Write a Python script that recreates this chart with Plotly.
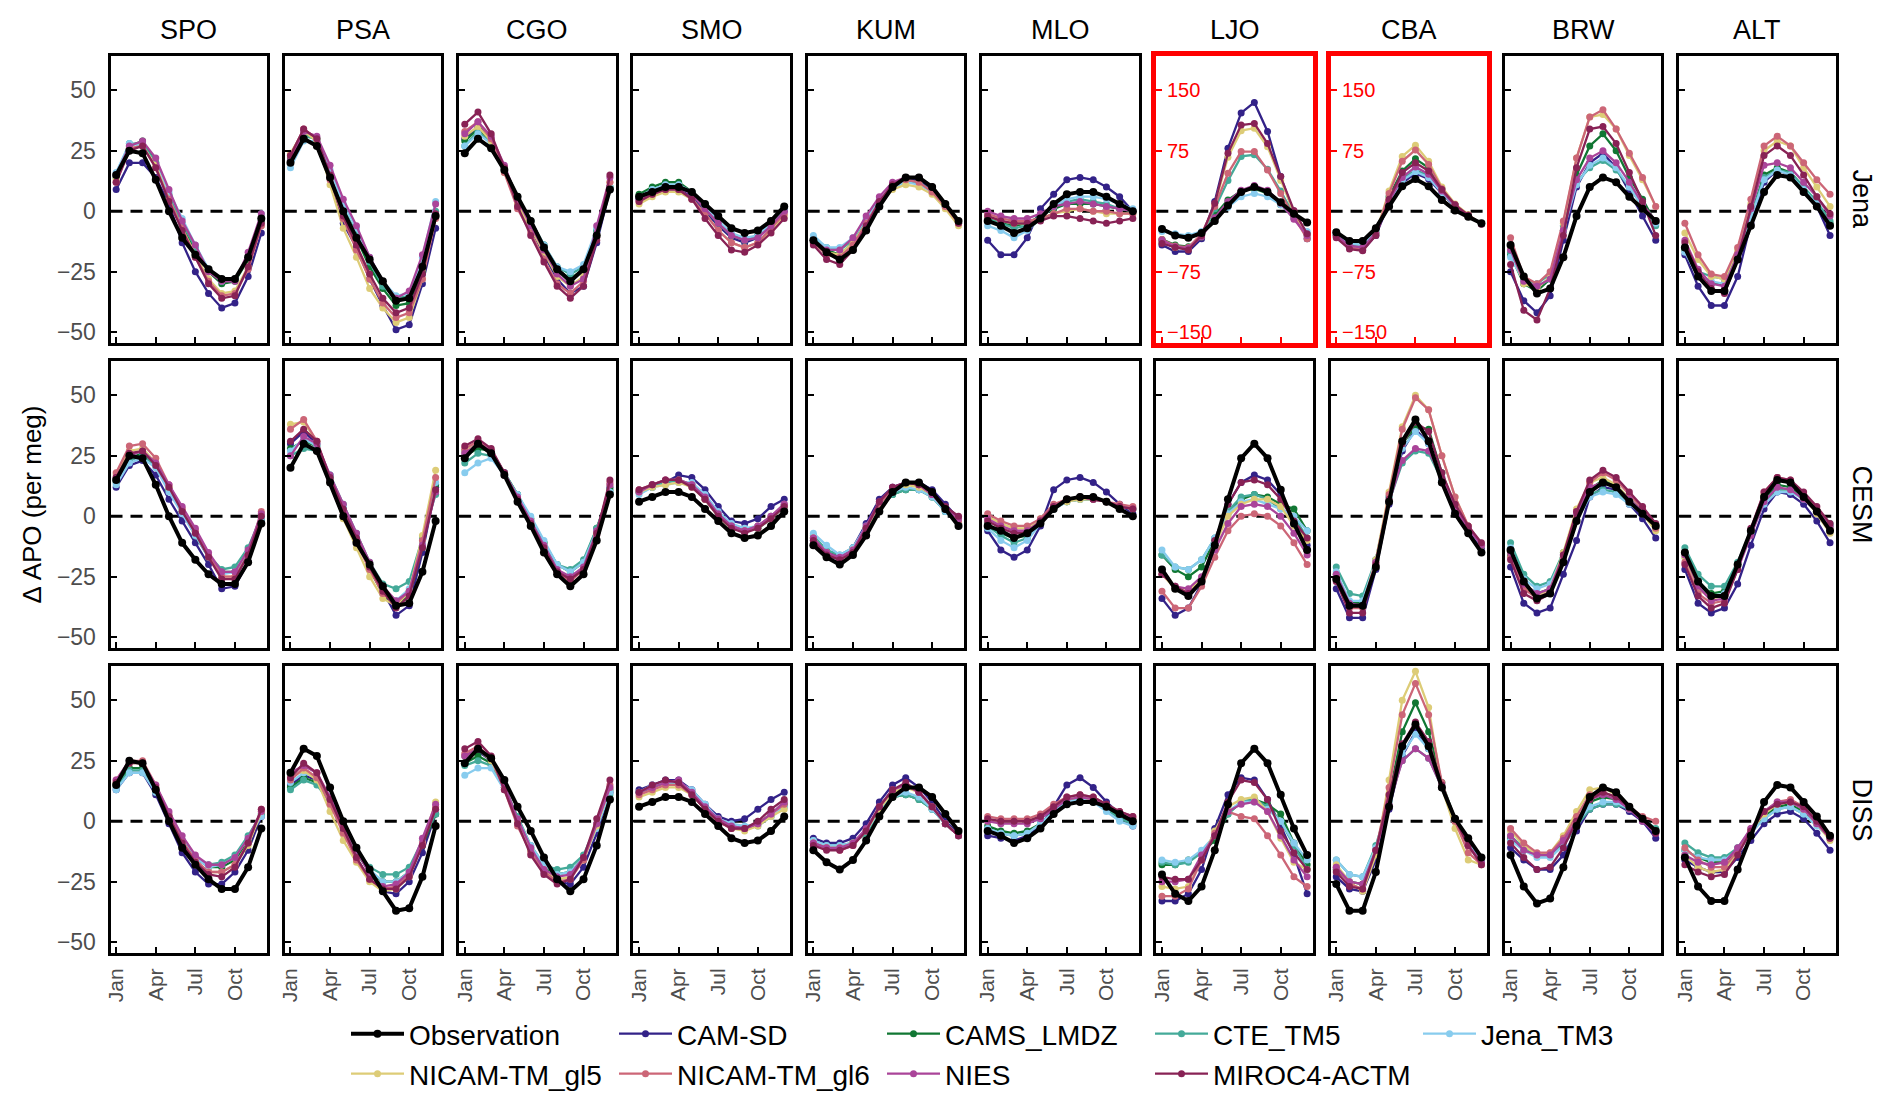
import plotly.graph_objects as go

# ---------------- data ----------------
stations = ["SPO", "PSA", "CGO", "SMO", "KUM", "MLO", "LJO", "CBA", "BRW", "ALT"]
row_names = ["Jena", "CESM", "DISS"]
months = [1, 2, 3, 4, 5, 6, 7, 8, 9, 10, 11, 12]
month_tickvals = [1, 4, 7, 10]
month_ticktext = ["Jan", "Apr", "Jul", "Oct"]
y_tickvals = [-50, -25, 0, 25, 50]
y_ticktext = ["\u221250", "\u221225", "0", "25", "50"]
red_tickvals = [-150, -75, 75, 150]
red_ticktext = ["\u2212150", "\u221275", "75", "150"]
scaled_panels = [(0, "LJO"), (0, "CBA")]

model_names = ["CAM-SD", "CAMS_LMDZ", "CTE_TM5", "Jena_TM3",
               "NICAM-TM_gl5", "NICAM-TM_gl6", "NIES", "MIROC4-ACTM"]
model_colors = ["#332288", "#117733", "#44AA99", "#88CCEE",
                "#DDCC77", "#CC6677", "#AA4499", "#882255"]

observation = [
    [15, 25, 24, 13, 0, -11, -18, -24, -28, -28, -19, -3],
    [20, 30, 27, 14, 0, -11, -20, -29, -37, -36, -23, -2],
    [24, 30, 26, 17, 6, -4, -15, -24, -29, -24, -10, 9],
    [6, 8, 10, 10, 8, 3, -2, -7, -9, -8, -4, 2],
    [-12, -17, -20, -16, -8, 2, 10, 14, 14, 10, 3, -4],
    [-4, -6, -9, -7, -3, 3, 7, 8, 8, 6, 3, 0],
    [-22, -30, -33, -27, -12, 7, 24, 30, 24, 11, -3, -14],
    [-26, -37, -37, -21, 6, 31, 40, 31, 14, 1, -7, -15],
    [-14, -27, -34, -32, -19, -2, 10, 14, 12, 6, 1, -4],
    [-15, -27, -33, -33, -20, -6, 8, 15, 14, 8, 2, -6],
]

# ---- Jena row ----
jena_cam_sd = [
    [9, 20, 20, 14, 3, -13, -25, -34, -40, -38, -27, -9],
    [21, 33, 29, 14, -5, -15, -28, -39, -49, -47, -30, -7],
    [30, 35, 30, 17, 3, -7, -18, -28, -34, -31, -13, 9],
    [5, 8, 9, 9, 6, 0, -6, -11, -13, -11, -6, 0],
    [-13, -17, -19, -14, -5, 4, 11, 13, 13, 9, 2, -5],
    [-12, -18, -18, -11, 1, 7, 13, 14, 13, 10, 6, 0],
    [-42, -50, -50, -34, 12, 78, 122, 135, 99, 43, -3, -34],
    [-30, -45, -48, -30, 10, 35, 47, 40, 22, 6, -6, -16],
    [-25, -37, -42, -35, -12, 10, 20, 24, 18, 8, -2, -12],
    [-18, -31, -39, -39, -27, -5, 12, 17, 15, 8, 2, -10],
]
jena_cams_lmdz = [
    [14, 27, 29, 20, 6, -6, -16, -25, -30, -29, -20, -4],
    [22, 32, 30, 15, -1, -11, -23, -32, -39, -38, -25, -2],
    [29, 34, 29, 18, 6, -4, -14, -24, -28, -24, -8, 10],
    [7, 10, 12, 12, 8, 2, -5, -10, -12, -10, -5, 2],
    [-12, -16, -18, -13, -4, 4, 11, 13, 12, 8, 2, -5],
    [-3, -5, -6, -5, -2, 1, 3, 3, 3, 2, 1, 0],
    [-35, -42, -44, -32, -5, 14, 25, 28, 22, 8, -8, -28],
    [-30, -43, -45, -27, 18, 50, 65, 54, 28, 8, -5, -16],
    [-18, -30, -33, -28, -8, 15, 27, 32, 25, 14, 5, -5],
    [-16, -27, -30, -30, -18, -2, 15, 18, 16, 10, 3, -5],
]
jena_cte_tm5 = [
    [15, 28, 28, 20, 7, -5, -15, -24, -29, -28, -19, -3],
    [20, 31, 30, 16, 1, -9, -21, -31, -36, -35, -22, 0],
    [27, 33, 28, 17, 6, -4, -14, -23, -26, -23, -8, 10],
    [6, 9, 11, 11, 7, 1, -5, -10, -12, -10, -5, 1],
    [-11, -15, -16, -12, -4, 4, 10, 12, 12, 8, 2, -5],
    [-3, -5, -7, -6, -2, 2, 4, 5, 4, 3, 1, 0],
    [-38, -45, -47, -30, 3, 38, 68, 70, 52, 25, -5, -30],
    [-28, -40, -42, -25, 12, 40, 51, 44, 24, 7, -5, -16],
    [-17, -28, -30, -26, -6, 12, 18, 21, 17, 10, 2, -6],
    [-15, -25, -27, -28, -18, -2, 14, 17, 16, 10, 4, -4],
]
jena_jena_tm3 = [
    [16, 28, 27, 19, 8, -3, -14, -24, -29, -28, -19, -1],
    [18, 29, 29, 17, 3, -7, -19, -29, -35, -34, -19, 4],
    [27, 32, 28, 17, 5, -4, -14, -23, -25, -22, -7, 10],
    [6, 9, 11, 11, 8, 2, -4, -9, -11, -10, -5, 1],
    [-10, -15, -15, -11, -3, 5, 10, 12, 11, 8, 2, -5],
    [-6, -8, -11, -8, -3, 2, 5, 6, 6, 5, 3, 1],
    [-25, -28, -30, -25, -10, 5, 18, 22, 18, 8, -8, -25],
    [-27, -40, -42, -25, 12, 38, 49, 42, 23, 7, -5, -16],
    [-19, -29, -31, -28, -8, 11, 19, 22, 18, 10, 2, -5],
    [-17, -27, -29, -30, -19, -3, 13, 17, 15, 9, 3, -6],
]
jena_nicam_gl5 = [
    [13, 26, 27, 19, 5, -7, -18, -28, -34, -33, -23, -6],
    [24, 33, 29, 11, -7, -19, -32, -40, -46, -44, -28, -2],
    [31, 35, 29, 16, 3, -7, -17, -27, -31, -27, -10, 12],
    [3, 6, 8, 8, 5, -1, -8, -13, -15, -13, -8, -2],
    [-13, -17, -18, -13, -5, 3, 9, 11, 10, 7, 1, -6],
    [-2, -4, -5, -5, -3, -1, 0, 1, 0, -1, -1, -1],
    [-38, -45, -47, -30, 8, 67, 100, 103, 80, 38, -2, -30],
    [-32, -45, -47, -27, 25, 68, 82, 62, 30, 9, -4, -16],
    [-15, -30, -32, -27, -5, 22, 39, 40, 34, 23, 13, 2],
    [-9, -20, -27, -28, -16, 3, 25, 29, 27, 18, 10, 2],
]
jena_nicam_gl6 = [
    [12, 26, 27, 18, 5, -7, -19, -29, -35, -34, -24, -6],
    [23, 34, 30, 13, -3, -16, -28, -38, -44, -42, -28, -3],
    [33, 37, 30, 16, 1, -9, -20, -30, -34, -29, -11, 12],
    [4, 7, 9, 9, 5, -1, -8, -13, -15, -13, -7, -1],
    [-13, -18, -19, -14, -5, 4, 11, 13, 12, 8, 2, -5],
    [-1, -3, -4, -4, -3, -1, 1, 1, 0, 0, -1, -1],
    [-35, -43, -45, -28, 6, 47, 74, 74, 51, 22, -7, -34],
    [-32, -45, -48, -28, 22, 62, 76, 58, 28, 8, -5, -16],
    [-11, -27, -30, -25, -4, 22, 39, 42, 34, 24, 14, 2],
    [-5, -18, -26, -27, -15, 5, 27, 31, 27, 20, 13, 7],
]
jena_nies = [
    [15, 27, 29, 22, 9, -4, -14, -25, -29, -29, -17, -1],
    [21, 33, 31, 19, 5, -6, -19, -29, -36, -33, -18, 3],
    [32, 37, 31, 19, 5, -6, -16, -26, -31, -28, -6, 14],
    [5, 8, 10, 10, 7, 1, -5, -10, -12, -11, -6, 0],
    [-12, -16, -16, -11, -2, 6, 12, 14, 14, 10, 3, -4],
    [0, -2, -3, -3, -1, 2, 3, 4, 3, 2, 1, 0],
    [-36, -44, -46, -32, -8, 12, 26, 32, 26, 10, -10, -30],
    [-30, -43, -45, -27, 12, 42, 55, 46, 25, 7, -5, -16],
    [-16, -29, -31, -28, -8, 13, 22, 25, 20, 12, 3, -4],
    [-12, -24, -30, -31, -18, 1, 19, 20, 18, 12, 6, -2],
]
jena_miroc4_actm = [
    [12, 25, 27, 18, 4, -8, -19, -30, -36, -35, -23, -5],
    [23, 34, 30, 15, -2, -14, -26, -36, -42, -40, -26, -1],
    [36, 41, 32, 18, 2, -10, -21, -31, -36, -31, -12, 15],
    [4, 7, 9, 9, 5, -3, -10, -16, -17, -14, -9, -3],
    [-14, -20, -22, -16, -6, 4, 11, 14, 14, 10, 3, -5],
    [-2, -4, -5, -5, -4, -2, -2, -3, -4, -5, -4, -3],
    [-40, -45, -48, -30, 10, 72, 107, 109, 84, 43, 1, -28],
    [-33, -47, -49, -30, 15, 48, 60, 50, 27, 8, -5, -16],
    [-22, -41, -45, -32, -10, 18, 34, 35, 28, 16, 4, -10],
    [-13, -25, -32, -34, -20, 2, 23, 27, 23, 15, 6, -1],
]

# ---- CESM row ----
cesm_cam_sd = [
    [12, 21, 23, 17, 7, -2, -11, -20, -30, -29, -19, -2],
    [30, 35, 30, 15, 2, -10, -21, -31, -41, -37, -15, 12],
    [27, 30, 27, 18, 8, -2, -13, -23, -26, -22, -7, 12],
    [10, 12, 14, 17, 16, 11, 4, -2, -3, -1, 4, 7],
    [-10, -16, -18, -13, -3, 7, 12, 14, 14, 11, 5, -1],
    [-6, -14, -17, -14, -4, 11, 15, 16, 14, 10, 5, 1],
    [-34, -41, -38, -28, -13, 5, 14, 17, 15, 9, -2, -12],
    [-30, -42, -42, -22, 5, 27, 36, 30, 15, 2, -6, -13],
    [-21, -36, -40, -38, -24, -10, 8, 12, 11, 5, -1, -9],
    [-22, -36, -40, -38, -28, -12, 3, 10, 9, 5, -2, -11],
]
cesm_cams_lmdz = [
    [15, 24, 26, 21, 11, 2, -8, -17, -23, -23, -15, -1],
    [28, 31, 29, 16, 3, -10, -22, -32, -37, -33, -13, 13],
    [25, 28, 27, 18, 9, -1, -11, -20, -23, -19, -5, 11],
    [10, 13, 14, 15, 13, 7, 0, -5, -6, -5, -1, 4],
    [-9, -14, -17, -14, -6, 3, 9, 11, 11, 8, 2, -3],
    [-3, -7, -9, -8, -2, 4, 6, 7, 7, 6, 4, 3],
    [-16, -22, -25, -21, -10, 1, 7, 9, 8, 5, 3, -6],
    [-24, -36, -36, -18, 8, 30, 37, 36, 18, 4, -5, -12],
    [-16, -28, -32, -30, -17, 0, 11, 15, 13, 7, 2, -5],
    [-15, -27, -32, -31, -20, -7, 7, 13, 12, 8, 2, -4],
]
cesm_cte_tm5 = [
    [14, 23, 25, 21, 11, 2, -7, -16, -22, -21, -13, 0],
    [25, 28, 27, 17, 5, -7, -19, -28, -30, -27, -9, 9],
    [22, 26, 25, 18, 9, -1, -11, -20, -22, -18, -5, 10],
    [10, 12, 14, 15, 13, 8, 1, -4, -6, -5, -1, 4],
    [-8, -14, -16, -13, -5, 4, 9, 11, 11, 8, 2, -3],
    [-4, -8, -11, -9, -3, 3, 6, 7, 7, 6, 4, 3],
    [-16, -21, -22, -18, -9, 2, 8, 9, 7, 3, 0, -9],
    [-21, -32, -33, -18, 6, 22, 27, 26, 15, 3, -5, -12],
    [-11, -24, -29, -27, -15, -1, 9, 11, 10, 6, 1, -4],
    [-13, -24, -29, -29, -19, -6, 6, 11, 11, 7, 2, -3],
]
cesm_jena_tm3 = [
    [13, 22, 24, 20, 10, 1, -8, -17, -24, -23, -15, -1],
    [27, 32, 29, 17, 4, -8, -20, -30, -35, -30, -11, 14],
    [18, 22, 24, 17, 9, 0, -10, -20, -23, -19, -6, 10],
    [9, 12, 13, 14, 14, 9, 2, -3, -5, -4, 0, 5],
    [-7, -12, -16, -13, -4, 5, 10, 12, 11, 8, 2, -3],
    [-5, -10, -13, -10, -3, 3, 6, 7, 7, 6, 4, 3],
    [-14, -21, -22, -18, -9, 1, 6, 7, 5, 3, 0, -6],
    [-23, -35, -35, -18, 8, 28, 35, 30, 16, 3, -5, -12],
    [-13, -26, -30, -28, -16, -2, 8, 10, 9, 5, 1, -5],
    [-17, -28, -33, -32, -21, -7, 5, 10, 10, 7, 2, -4],
]
cesm_nicam_gl5 = [
    [17, 27, 28, 22, 12, 3, -6, -16, -25, -25, -16, 1],
    [38, 39, 31, 14, -1, -13, -25, -34, -37, -31, -8, 19],
    [27, 30, 27, 17, 7, -3, -13, -23, -26, -22, -7, 13],
    [10, 12, 13, 14, 12, 7, 0, -5, -6, -5, -1, 4],
    [-9, -15, -18, -14, -5, 5, 11, 13, 12, 9, 3, -2],
    [0, -3, -5, -5, -1, 4, 6, 7, 7, 6, 4, 3],
    [-24, -30, -31, -26, -12, 0, 5, 7, 7, 4, -4, -10],
    [-25, -37, -37, -18, 10, 37, 50, 44, 25, 8, -4, -12],
    [-15, -29, -33, -30, -15, 3, 14, 16, 13, 7, 1, -6],
    [-17, -30, -34, -33, -21, -6, 9, 15, 14, 8, 1, -7],
]
cesm_nicam_gl6 = [
    [18, 29, 30, 24, 13, 3, -6, -16, -25, -25, -16, 2],
    [36, 40, 31, 15, 1, -11, -22, -32, -36, -31, -10, 16],
    [28, 31, 27, 17, 7, -3, -13, -23, -27, -22, -8, 14],
    [11, 13, 15, 15, 13, 7, 0, -4, -6, -4, 0, 5],
    [-9, -15, -18, -15, -5, 5, 11, 14, 13, 9, 3, -2],
    [1, -2, -4, -4, -1, 5, 7, 8, 7, 6, 5, 4],
    [-31, -38, -38, -29, -17, -6, 0, 1, 0, -4, -11, -20],
    [-25, -38, -38, -19, 9, 36, 49, 44, 25, 8, -4, -12],
    [-17, -30, -34, -31, -17, 2, 14, 18, 15, 9, 3, -5],
    [-19, -32, -36, -35, -22, -6, 10, 16, 15, 9, 3, -5],
]
cesm_nies = [
    [16, 25, 27, 22, 13, 4, -5, -15, -23, -23, -14, 1],
    [25, 33, 30, 17, 5, -7, -19, -29, -35, -31, -12, 10],
    [26, 30, 27, 18, 8, -2, -12, -22, -25, -21, -6, 13],
    [10, 13, 15, 15, 13, 8, 1, -4, -6, -4, 0, 5],
    [-9, -15, -17, -14, -4, 6, 12, 14, 13, 9, 3, -1],
    [-1, -4, -6, -6, -2, 4, 7, 8, 7, 6, 4, 3],
    [-24, -29, -30, -25, -14, -3, 4, 5, 4, 0, -7, -16],
    [-24, -36, -37, -19, 6, 23, 28, 27, 16, 3, -5, -12],
    [-15, -28, -32, -30, -16, 1, 12, 14, 12, 7, 2, -4],
    [-16, -29, -35, -34, -22, -8, 6, 12, 11, 7, 2, -4],
]
cesm_miroc4_actm = [
    [16, 26, 27, 21, 12, 2, -7, -17, -26, -26, -16, 0],
    [31, 36, 31, 16, 3, -9, -21, -31, -38, -33, -13, 11],
    [29, 32, 28, 18, 7, -3, -13, -23, -26, -22, -7, 15],
    [11, 13, 15, 15, 12, 7, 0, -5, -7, -5, -1, 4],
    [-10, -16, -18, -15, -5, 6, 12, 14, 13, 10, 4, 0],
    [-2, -5, -7, -7, -2, 4, 7, 8, 7, 6, 4, 3],
    [-24, -29, -32, -27, -10, 5, 14, 15, 13, 7, -2, -9],
    [-27, -40, -40, -20, 7, 30, 39, 35, 18, 5, -4, -11],
    [-18, -32, -35, -32, -16, 2, 15, 19, 16, 10, 4, -3],
    [-20, -33, -38, -36, -22, -5, 10, 16, 15, 10, 4, -3],
]

# ---- DISS row ----
diss_cam_sd = [
    [13, 20, 20, 11, -1, -13, -21, -26, -26, -21, -12, 2],
    [15, 19, 17, 8, -4, -15, -24, -29, -30, -25, -13, 3],
    [27, 29, 25, 14, 0, -12, -21, -25, -26, -19, -5, 12],
    [13, 15, 17, 17, 13, 7, 2, 0, 1, 5, 9, 12],
    [-7, -9, -9, -7, -1, 8, 15, 18, 14, 8, 0, -5],
    [-6, -7, -8, -6, -2, 6, 15, 18, 14, 8, 3, -2],
    [-33, -33, -30, -20, -3, 11, 18, 17, 9, -2, -14, -30],
    [-23, -28, -29, -16, 5, 27, 37, 30, 14, 0, -10, -17],
    [-11, -16, -20, -20, -14, -4, 5, 7, 7, 4, 0, -7],
    [-16, -19, -21, -21, -15, -8, -1, 3, 4, 1, -5, -12],
]
diss_cams_lmdz = [
    [15, 22, 22, 13, 2, -8, -15, -19, -19, -16, -8, 3],
    [14, 18, 16, 9, -2, -13, -21, -25, -25, -21, -10, 3],
    [24, 27, 24, 14, 1, -11, -19, -22, -21, -15, -2, 13],
    [12, 14, 16, 16, 12, 6, 1, -2, -3, -1, 3, 7],
    [-9, -11, -11, -9, -5, 4, 10, 11, 9, 5, -1, -6],
    [-2, -4, -5, -4, -1, 4, 8, 10, 9, 5, 2, 0],
    [-18, -18, -16, -13, -8, 3, 8, 9, 7, 3, -9, -18],
    [-20, -25, -26, -12, 10, 37, 49, 37, 16, 1, -10, -17],
    [-7, -12, -14, -14, -9, 0, 8, 10, 9, 6, 1, -4],
    [-12, -15, -17, -17, -12, -4, 2, 6, 7, 4, -1, -7],
]
diss_cte_tm5 = [
    [14, 21, 21, 12, 2, -8, -15, -18, -17, -14, -6, 3],
    [13, 17, 15, 8, -2, -12, -19, -22, -22, -19, -8, 3],
    [23, 25, 23, 14, 2, -10, -18, -20, -19, -14, -1, 11],
    [12, 14, 16, 16, 12, 6, 1, -2, -3, -2, 2, 6],
    [-8, -10, -10, -9, -5, 4, 10, 11, 9, 5, -1, -6],
    [-3, -5, -6, -5, -1, 4, 8, 9, 8, 5, 1, -1],
    [-17, -18, -17, -13, -6, 3, 8, 9, 6, 0, -10, -20],
    [-16, -22, -23, -10, 8, 25, 30, 26, 14, 1, -9, -16],
    [-6, -11, -14, -14, -10, -2, 5, 7, 7, 5, 1, -3],
    [-9, -13, -15, -15, -11, -4, 1, 5, 6, 3, -1, -6],
]
diss_jena_tm3 = [
    [13, 20, 20, 12, 2, -8, -15, -19, -18, -15, -7, 2],
    [16, 20, 18, 10, 0, -11, -20, -25, -25, -21, -8, 5],
    [19, 22, 22, 13, 1, -10, -18, -22, -21, -15, -3, 12],
    [12, 15, 16, 16, 13, 7, 1, -1, -2, -1, 2, 6],
    [-8, -10, -10, -9, -4, 4, 10, 12, 10, 5, -1, -6],
    [-3, -5, -6, -5, -1, 4, 8, 9, 8, 4, 0, -2],
    [-16, -17, -16, -12, -6, 4, 8, 8, 5, 0, -9, -16],
    [-16, -22, -23, -11, 9, 28, 36, 30, 15, 1, -9, -16],
    [-8, -12, -15, -15, -10, -1, 6, 8, 8, 5, 1, -4],
    [-12, -15, -16, -16, -12, -5, 1, 5, 6, 3, -2, -7],
]
diss_nicam_gl5 = [
    [16, 24, 24, 14, 2, -9, -17, -21, -21, -18, -10, 4],
    [18, 21, 17, 4, -8, -17, -25, -29, -28, -23, -9, 8],
    [27, 30, 25, 14, 0, -12, -20, -24, -23, -16, -2, 14],
    [10, 12, 14, 14, 11, 5, 0, -3, -4, -2, 2, 5],
    [-9, -11, -11, -9, -4, 5, 12, 14, 12, 6, -1, -6],
    [0, 0, 0, 0, 2, 6, 9, 10, 9, 6, 3, 1],
    [-27, -28, -27, -16, -4, 6, 9, 10, 4, -7, -17, -20],
    [-18, -25, -29, -14, 17, 50, 62, 47, 14, -3, -16, -18],
    [-4, -10, -14, -13, -6, 4, 13, 14, 11, 6, 1, -4],
    [-14, -19, -21, -20, -13, -4, 3, 7, 8, 5, -1, -8],
]
diss_nicam_gl6 = [
    [17, 25, 25, 15, 3, -8, -16, -21, -21, -18, -9, 5],
    [17, 22, 18, 7, -5, -16, -24, -28, -27, -22, -9, 6],
    [28, 31, 26, 13, -2, -13, -21, -25, -24, -16, -1, 15],
    [11, 13, 15, 15, 11, 5, 0, -3, -3, -1, 3, 7],
    [-9, -11, -12, -10, -4, 6, 13, 15, 12, 6, -1, -6],
    [2, 1, 1, 1, 3, 7, 10, 11, 10, 7, 4, 2],
    [-31, -31, -28, -16, -5, 4, 2, 1, -6, -14, -23, -27],
    [-19, -26, -28, -12, 14, 44, 57, 44, 16, 0, -13, -18],
    [-3, -9, -13, -13, -7, 2, 11, 12, 10, 6, 2, 0],
    [-11, -16, -19, -19, -12, -3, 4, 8, 9, 6, 0, -6],
]
diss_nies = [
    [17, 25, 24, 15, 4, -6, -14, -18, -18, -15, -7, 4],
    [20, 23, 20, 10, -2, -12, -22, -27, -26, -21, -7, 7],
    [27, 30, 26, 15, 1, -11, -20, -23, -22, -15, -1, 14],
    [12, 14, 16, 17, 12, 6, 1, -2, -3, -1, 3, 8],
    [-9, -11, -11, -9, -3, 6, 13, 15, 12, 6, -1, -6],
    [0, -1, -1, -1, 1, 5, 9, 10, 9, 6, 3, 1],
    [-25, -25, -24, -14, -6, 4, 7, 8, 4, -6, -16, -23],
    [-19, -25, -26, -12, 7, 25, 30, 26, 14, 1, -10, -17],
    [-6, -12, -14, -14, -8, 0, 9, 11, 9, 5, 0, -5],
    [-14, -17, -18, -17, -11, -3, 4, 8, 8, 5, -1, -7],
]
diss_miroc4_actm = [
    [16, 24, 24, 14, 2, -9, -17, -22, -23, -19, -9, 5],
    [18, 24, 20, 9, -3, -15, -24, -28, -28, -23, -10, 5],
    [30, 33, 27, 13, -1, -14, -22, -26, -24, -15, 1, 17],
    [12, 15, 17, 16, 11, 5, 0, -3, -3, 0, 5, 9],
    [-10, -12, -12, -10, -4, 6, 13, 16, 12, 6, -1, -6],
    [1, 0, 0, 0, 2, 6, 10, 11, 10, 7, 4, 2],
    [-23, -24, -24, -16, -6, 8, 17, 16, 9, -4, -13, -20],
    [-21, -27, -28, -12, 11, 32, 41, 33, 15, 1, -10, -18],
    [-9, -15, -20, -19, -11, 0, 9, 12, 10, 6, 1, -5],
    [-18, -21, -23, -22, -14, -4, 4, 7, 8, 6, 0, -7],
]

models_by_row = [
    [jena_cam_sd, jena_cams_lmdz, jena_cte_tm5, jena_jena_tm3,
     jena_nicam_gl5, jena_nicam_gl6, jena_nies, jena_miroc4_actm],
    [cesm_cam_sd, cesm_cams_lmdz, cesm_cte_tm5, cesm_jena_tm3,
     cesm_nicam_gl5, cesm_nicam_gl6, cesm_nies, cesm_miroc4_actm],
    [diss_cam_sd, diss_cams_lmdz, diss_cte_tm5, diss_jena_tm3,
     diss_nicam_gl5, diss_nicam_gl6, diss_nies, diss_miroc4_actm],
]

# ---------------- layout geometry (pixels) ----------------
W, H = 1892, 1109
OFF = 8  # compensate page body margin
FONT = "Liberation Sans, Arial, Helvetica, sans-serif"
panel_left0, panel_pitch, panel_w = 110.5 - OFF, 174.3, 156.5
row_tops = [56 - OFF, 361 - OFF, 666 - OFF]
panel_h = 287
x_range = [0.57, 12.43]
y_range = [-54.5, 64.2]

legend1_models = ["CAM-SD", "CAMS_LMDZ", "CTE_TM5", "Jena_TM3"]

fig = go.Figure()
layout_axes = {}
shapes = []
annotations = []

for r in range(3):
    for c, st in enumerate(stations):
        k = r * 10 + c + 1
        xa = "x" if k == 1 else f"x{k}"
        ya = "y" if k == 1 else f"y{k}"
        scaled = (r, st) in scaled_panels
        first_panel = (k == 1)
        for m, name in enumerate(model_names):
            fig.add_trace(go.Scatter(
                x=months, y=models_by_row[r][m][c], mode="lines+markers",
                name=name, xaxis=xa, yaxis=ya,
                line=dict(color=model_colors[m], width=2.3),
                marker=dict(color=model_colors[m], size=7),
                showlegend=first_panel,
                legend="legend" if name in legend1_models else "legend2",
                legendrank=m + 2,
            ))
        fig.add_trace(go.Scatter(
            x=months, y=observation[c], mode="lines+markers",
            name="Observation", xaxis=xa, yaxis=ya,
            line=dict(color="black", width=4),
            marker=dict(color="black", size=8),
            showlegend=first_panel, legend="legend", legendrank=1,
        ))

        x0 = (panel_left0 + c * panel_pitch) / W
        x1 = (panel_left0 + c * panel_pitch + panel_w) / W
        y1 = 1 - row_tops[r] / H
        y0 = 1 - (row_tops[r] + panel_h) / H
        border_col = "#FF0000" if scaled else "black"
        border_w = 5 if scaled else 3
        xkey = "xaxis" if k == 1 else f"xaxis{k}"
        ykey = "yaxis" if k == 1 else f"yaxis{k}"
        layout_axes[xkey] = dict(
            domain=[x0, x1], anchor=ya, range=x_range,
            tickvals=month_tickvals, ticktext=month_ticktext,
            showticklabels=(r == 2), tickangle=-90,
            ticks="inside", ticklen=6, tickwidth=1.5,
            tickcolor=border_col, ticklabelstandoff=4,
            tickfont=dict(family=FONT, size=21, color="#4D4D4D"),
            showgrid=False, zeroline=False,
            showline=True, mirror=True, linecolor=border_col, linewidth=border_w,
        )
        if scaled:
            layout_axes[ykey] = dict(
                domain=[y0, y1], anchor=xa,
                range=[y_range[0] * 3, y_range[1] * 3],
                tickvals=red_tickvals, showticklabels=False,
                ticks="inside", ticklen=6, tickwidth=2, tickcolor="#FF0000",
                showgrid=False, zeroline=False,
                showline=True, mirror=True, linecolor="#FF0000", linewidth=5,
            )
            for tv, tt in zip(red_tickvals, red_ticktext):
                annotations.append(dict(
                    x=0, y=tv, xref=f"{xa} domain", yref=ya, text=tt,
                    showarrow=False, xanchor="left", yanchor="middle",
                    xshift=9, font=dict(family=FONT, size=20, color="#FF0000"),
                ))
        else:
            layout_axes[ykey] = dict(
                domain=[y0, y1], anchor=xa, range=y_range,
                tickvals=y_tickvals, ticktext=y_ticktext,
                showticklabels=(c == 0), ticklabelstandoff=7,
                ticks="inside", ticklen=6, tickwidth=1.5, tickcolor="black",
                tickfont=dict(family=FONT, size=23, color="#4D4D4D"),
                showgrid=False, zeroline=False,
                showline=True, mirror=True, linecolor="black", linewidth=3,
            )
        shapes.append(dict(
            type="line", xref=f"{xa} domain", yref=ya,
            x0=0, x1=1, y0=0, y1=0, layer="below",
            line=dict(color="black", width=3, dash="12px,8px"),
        ))
        if r == 0:
            annotations.append(dict(
                x=(x0 + x1) / 2, y=1 - (30 - OFF) / H, xref="paper", yref="paper",
                text=st, showarrow=False, xanchor="center", yanchor="middle",
                font=dict(family=FONT, size=27, color="black"),
            ))
    annotations.append(dict(
        x=(1862 - OFF) / W, y=1 - (row_tops[r] + panel_h / 2) / H,
        xref="paper", yref="paper", text=row_names[r], showarrow=False,
        textangle=90, xanchor="center", yanchor="middle",
        font=dict(family=FONT, size=27, color="black"),
    ))

annotations.append(dict(
    x=(31 - OFF) / W, y=1 - (row_tops[1] + panel_h / 2) / H,
    xref="paper", yref="paper", text="\u0394 APO (per meg)", showarrow=False,
    textangle=-90, xanchor="center", yanchor="middle",
    font=dict(family=FONT, size=26, color="black"),
))

legend_common = dict(
    orientation="h", xanchor="left", yanchor="middle",
    entrywidth=200, entrywidthmode="pixels",
    font=dict(family=FONT, size=28, color="black"),
    bgcolor="rgba(0,0,0,0)", traceorder="normal", itemwidth=53,
)
fig.update_layout(
    width=W, height=H,
    margin=dict(l=0, r=0, t=0, b=0, autoexpand=False),
    paper_bgcolor="white", plot_bgcolor="white",
    shapes=shapes, annotations=annotations,
    legend=dict(x=(346 - OFF) / W, y=1 - (1034 - OFF) / H, **legend_common),
    legend2=dict(x=(346 - OFF) / W, y=1 - (1074 - OFF) / H, **legend_common),
    **layout_axes,
)

fig.write_html("out.html")
